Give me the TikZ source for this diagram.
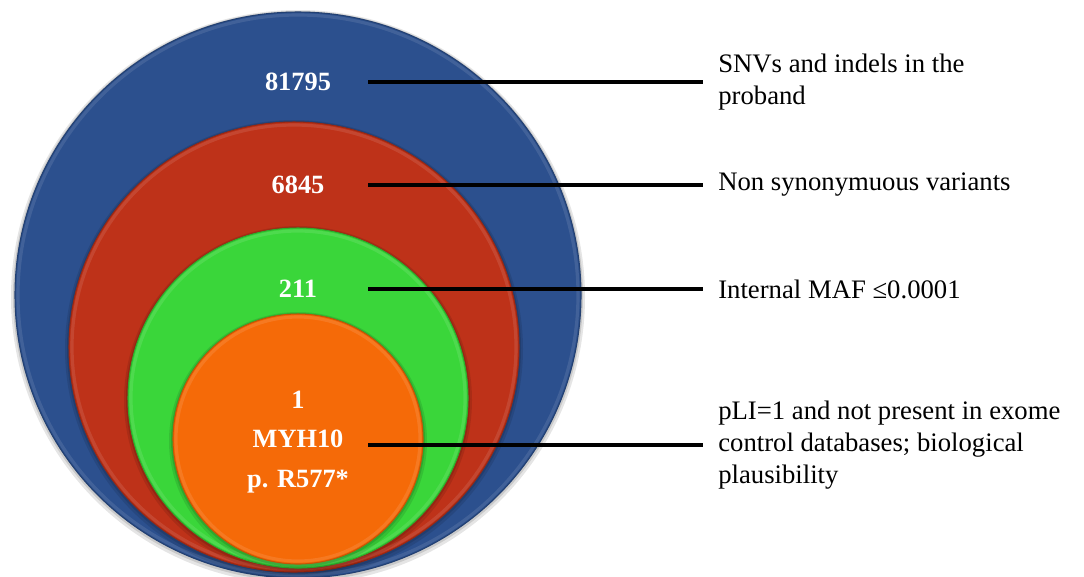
\documentclass[tikz,border=0pt]{standalone}
\usepackage{fontspec}
\setmainfont{Liberation Serif}
\begin{document}
\begin{tikzpicture}[x=0.02cm, y=-0.02cm,
  num/.style={text=white, font=\fontsize{15}{22.7}\selectfont\bfseries, align=center, inner sep=0pt},
  lbl/.style={anchor=west, inner xsep=8.5pt, inner ysep=0pt, align=left,
              font=\fontsize{15.2}{18}\selectfont},
  lead/.style={line width=2.2pt, black}]
\useasboundingbox (0,0) rectangle (1084,576);
\definecolor{ringblue}{RGB}{44,80,142}
\definecolor{ringred}{RGB}{190,50,25}
\definecolor{ringgreen}{RGB}{58,214,58}
\definecolor{ringorange}{RGB}{245,106,8}

% nested filter discs: soft shadow, body, faint light rim, dark edge
\foreach \cx/\cy/\r/\col in {298/295/283/ringblue, 294/347/225/ringred,
                             298/398/170/ringgreen, 298/439/125/ringorange}{
  \fill[black, opacity=0.10] (\cx,\cy+2) circle[radius=\r+4];
  \fill[black, opacity=0.12] (\cx,\cy+1) circle[radius=\r+2];
  \fill[\col] (\cx,\cy) circle[radius=\r];
  \draw[white, opacity=0.10, line width=1.8pt] (\cx,\cy) circle[radius=\r-3];
  \draw[\col!80!black, line width=0.6pt] (\cx,\cy) circle[radius=\r];
}

% counts
\node[num] (n1) at (298,82) {81795};
\node[num] (n2) at (298,185) {6845};
\node[num] (n3) at (298,289) {211};
\node[num] (n4) at (298,442) {1\\MYH10\\p. R577*};

% filter descriptions
\node[lbl] (l1) at (703,82) {SNVs and indels in the\\proband};
\node[lbl] (l2) at (703,185) {Non synonymuous variants};
\node[lbl] (l3) at (703,289) {Internal MAF ≤0.0001};
\node[lbl] (l4) at (703,445) {pLI=1 and not present in exome\\control databases; biological\\plausibility};

% leader lines
\coordinate (s1) at (368,82);
\coordinate (s2) at (368,185);
\coordinate (s3) at (368,289);
\coordinate (s4) at (368,445);
\draw[lead] (s1) -- (l1.west);
\draw[lead] (s2) -- (l2.west);
\draw[lead] (s3) -- (l3.west);
\draw[lead] (s4) -- (l4.west);
\end{tikzpicture}
\end{document}
